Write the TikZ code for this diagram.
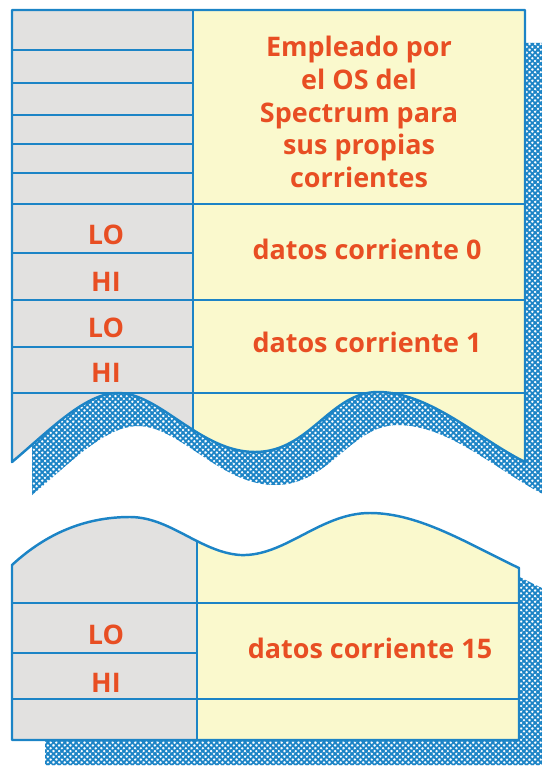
\documentclass[tikz,border=0pt]{standalone}
\usepackage{fontspec}
\setmainfont{Open Sans}
\usetikzlibrary{patterns.meta}
\definecolor{mapline}{RGB}{28,132,198}
\definecolor{mapgray}{RGB}{226,225,224}
\definecolor{mapyellow}{RGB}{250,249,205}
\definecolor{maptext}{RGB}{232,78,35}
\tikzset{
  mapedge/.style   = {draw=mapline, line width=2.1pt, line join=round},
  maprule/.style   = {draw=mapline, line width=1.9pt},
  hatchup/.style   = {pattern={Lines[angle=45, distance=3.4pt, line width=1.6pt]},
                      pattern color=mapline},
  hatchdown/.style = {pattern={Lines[angle=-45, distance=3.4pt, line width=1.6pt]},
                      pattern color=mapline},
  memtext/.style   = {font=\bfseries\fontsize{23}{28}\selectfont, text=maptext,
                      align=center, inner sep=0pt},
}
% outlines of the two torn pieces of the memory map
\newcommand{\upperblock}{(12,10) -- (525,10) -- (525,462)
  .. controls (480,440) and (430,392) .. (378,392)
  .. controls (330,392) and (310,452) .. (255,452)
  .. controls (200,452) and (160,393) .. (118,393)
  .. controls (85,393) and (50,430) .. (12,462) -- cycle}
\newcommand{\lowerblock}{(12,740) -- (12,565)
  .. controls (50,530) and (90,517) .. (130,517)
  .. controls (170,517) and (200,552) .. (240,555)
  .. controls (285,557) and (320,513) .. (370,513)
  .. controls (420,513) and (470,545) .. (519,568) -- (519,740) -- cycle}

\begin{document}
\begin{tikzpicture}[x=0.03cm, y=-0.03cm]
  \useasboundingbox (0,0) rectangle (542,768);
  \clip (0,0) rectangle (542,768);

  % shadows
  \fill[hatchup, shift={(20,33)}] \upperblock;
  \fill[hatchdown, shift={(20,33)}] \upperblock;
  \fill[hatchup, shift={(33,25)}] \lowerblock;
  \fill[hatchdown, shift={(33,25)}] \lowerblock;

  % upper piece
  \fill[mapyellow] \upperblock;
  \begin{scope}
    \clip \upperblock;
    \fill[mapgray] (12,0) rectangle (193,768);
    \draw[maprule] (193,0) -- (193,768);
    \foreach \y in {50,83,115,144,173,253,347}
      \draw[maprule] (12,\y) -- (193,\y);
    \foreach \y in {204,300,393}
      \draw[maprule] (12,\y) -- (525,\y);
  \end{scope}
  \draw[mapedge] \upperblock;

  % lower piece
  \fill[mapyellow] \lowerblock;
  \begin{scope}
    \clip \lowerblock;
    \fill[mapgray] (12,500) rectangle (197,768);
    \draw[maprule] (197,500) -- (197,768);
    \draw[maprule] (12,653) -- (197,653);
    \foreach \y in {603,699}
      \draw[maprule] (12,\y) -- (519,\y);
  \end{scope}
  \draw[mapedge] \lowerblock;

  % texts
  \node[memtext] (osuse) at (359,112)
    {Empleado por\\el OS del\\Spectrum para\\sus propias\\corrientes};
  \node[memtext] (data0) at (367,249) {datos corriente 0};
  \node[memtext] (data1) at (367,342) {datos corriente 1};
  \node[memtext] (data15) at (370,648) {datos corriente 15};
  \foreach \y/\t/\n in {235/LO/lo0, 282/HI/hi0, 328/LO/lo1, 373/HI/hi1,
                        635/LO/lo15, 683/HI/hi15}
    \node[memtext] (\n) at (106,\y) {\t};
\end{tikzpicture}
\end{document}
